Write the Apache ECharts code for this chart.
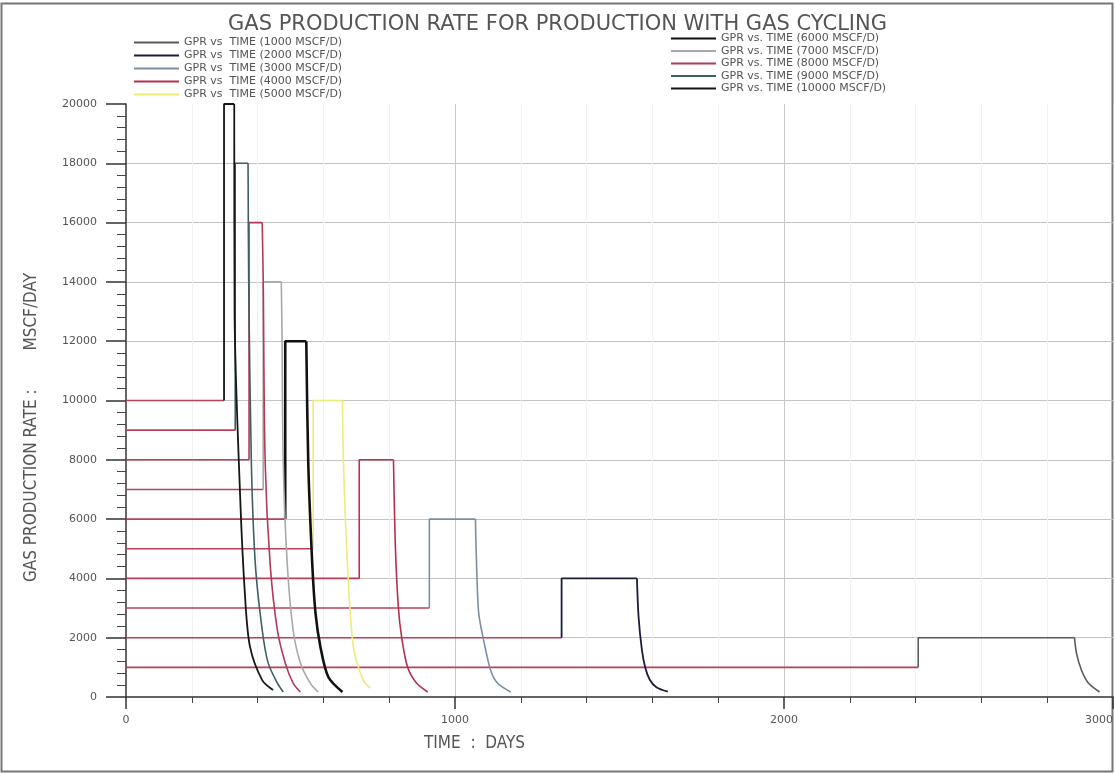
<!DOCTYPE html>
<html>
<head>
<meta charset="utf-8">
<script src="https://cdn.jsdelivr.net/npm/echarts@6/dist/echarts.min.js"></script>
<style>
  html, body { margin: 0; padding: 0; background: #fff; }
  #chart { width: 1115px; height: 774px; }
</style>
</head>
<body>
<div id="chart"></div>
<script>
// initial constant rates (MSCF/D) and the day each case starts cycling
const rates = [1000, 2000, 3000, 4000, 5000, 6000, 7000, 8000, 9000, 10000];
const jumpDays = [2408, 1324, 922, 709, 569, 484, 417, 374, 332, 298];

// cycling phase: plateau at twice the rate, then decline  [day, MSCF/D]
const c1000 = [[2408, 2000], [2883, 2000], [2889, 1480], [2904, 910], [2925, 470], [2959, 170]];
const c2000 = [[1324, 4000], [1553, 4000], [1558, 2700], [1568, 1600], [1578, 1000], [1592, 580], [1612, 330], [1647, 180]];
const c3000 = [[922, 6000], [1062, 6000], [1066, 4300], [1072, 2830], [1087, 1920], [1108, 910], [1129, 470], [1169, 170]];
const c4000 = [[709, 8000], [813, 8000], [819, 5000], [828, 3000], [838, 2000], [856, 1000], [883, 470], [917, 170]];
const c5000 = [[569, 10000], [658, 10000], [661, 7900], [673, 4500], [691, 1700], [721, 570], [743, 300]];
const c6000 = [[484, 12000], [548, 12000], [554, 7890], [566, 4520], [576, 2830], [591, 1690], [615, 675], [658, 170]];
const c7000 = [[417, 14000], [472, 14000], [474, 12400], [478, 7900], [490, 4500], [508, 2260], [530, 1150], [560, 470], [584, 170]];
const c8000 = [[374, 16000], [414, 16000], [417, 14100], [423, 7900], [438, 4500], [460, 2260], [484, 1150], [508, 470], [530, 170]];
const c9000 = [[332, 18000], [371, 18000], [373, 14000], [381, 7900], [393, 4500], [414, 2260], [432, 1150], [460, 470], [478, 170]];
const c10000 = [[298, 20000], [329, 20000], [330, 13000], [347, 6750], [362, 3370], [377, 1690], [414, 570], [447, 236]];

const cycles = [c1000, c2000, c3000, c4000, c5000, c6000, c7000, c8000, c9000, c10000];
const colors = ['#5a5a5a', '#1c1c3c', '#7d8ea0', '#b3304f', '#ecec78', '#111111', '#a8a8a8', '#b23a58', '#3f5f60', '#161616'];
const widths = [1.6, 1.8, 1.6, 1.6, 1.6, 2.6, 1.6, 1.6, 1.6, 1.8];
const preColor = '#b8405a';

const font = "'DejaVu Sans', sans-serif";
const narrow = "'DejaVu Sans Condensed', 'Liberation Sans Narrow', sans-serif";

const names = rates.map((r, i) => (i < 5 ? 'GPR vs  TIME (' : 'GPR vs. TIME (') + r + ' MSCF/D)');

const series = [];
rates.forEach((r, i) => {
  series.push({
    name: 'pre' + r,
    type: 'line',
    symbol: 'none',
    silent: true,
    lineStyle: { color: preColor, width: 1.6 },
    data: [[0, r], [jumpDays[i], r]]
  });
});
rates.forEach((r, i) => {
  // step up and plateau
  series.push({
    name: names[i],
    type: 'line',
    symbol: 'none',
    color: colors[i],
    lineStyle: { color: colors[i], width: widths[i] },
    data: [[jumpDays[i], r]].concat(cycles[i].slice(0, 2))
  });
  // decline after the plateau
  series.push({
    name: names[i],
    type: 'line',
    symbol: 'none',
    smooth: 0.3,
    color: colors[i],
    lineStyle: { color: colors[i], width: widths[i] },
    data: cycles[i].slice(1)
  });
});

const legendBase = {
  orient: 'vertical',
  padding: 0,
  itemWidth: 45,
  itemHeight: 10,
  itemStyle: { opacity: 0 },
  textStyle: { fontSize: 11, color: '#555', fontFamily: font, lineHeight: 10 }
};

const noComma = v => String(v);

const chart = echarts.init(document.getElementById('chart'));
chart.setOption({
  backgroundColor: '#fff',
  animation: false,
  title: {
    text: 'GAS PRODUCTION RATE FOR PRODUCTION WITH GAS CYCLING',
    left: 'center',
    top: 9,
    textStyle: { fontSize: 21, fontWeight: 'normal', color: '#555', fontFamily: font }
  },
  legend: [
    Object.assign({}, legendBase, { left: 133, top: 37, itemGap: 2, data: names.slice(0, 5) }),
    Object.assign({}, legendBase, { left: 670, top: 33, itemGap: 1.5, data: names.slice(5) })
  ],
  grid: { left: 126, right: 2, top: 104, bottom: 77, outerBoundsMode: 'none' },
  xAxis: {
    type: 'value',
    min: 0,
    max: 3000,
    interval: 1000,
    name: 'TIME  :  DAYS',
    nameLocation: 'middle',
    nameGap: 38,
    nameTextStyle: { fontSize: 17, color: '#555', fontFamily: narrow, padding: [0, 290, 0, 0] },
    axisLine: { lineStyle: { color: '#333', width: 1.5 } },
    axisTick: { length: 12, lineStyle: { color: '#333', width: 1.5 } },
    minorTick: { show: true, splitNumber: 5, length: 6, lineStyle: { color: '#444' } },
    axisLabel: { margin: 18, fontSize: 11, color: '#555', fontFamily: font, formatter: noComma, alignMaxLabel: 'right' },
    splitLine: { show: true, showMinLine: false, lineStyle: { color: '#c8c8c8', width: 1 } },
    minorSplitLine: { show: true, lineStyle: { color: '#f2f2f2', width: 1 } }
  },
  yAxis: {
    type: 'value',
    min: 0,
    max: 20000,
    interval: 2000,
    name: 'GAS PRODUCTION RATE :        MSCF/DAY',
    nameLocation: 'middle',
    nameGap: 86,
    nameTextStyle: { fontSize: 17, color: '#555', fontFamily: narrow, padding: [0, 54, 0, 0] },
    axisLine: { show: true, lineStyle: { color: '#333', width: 1.5 } },
    axisTick: { show: true, length: 20, lineStyle: { color: '#333', width: 1.5 } },
    minorTick: { show: true, splitNumber: 5, length: 9, lineStyle: { color: '#444' } },
    axisLabel: { margin: 29, fontSize: 11, color: '#555', fontFamily: font, formatter: noComma },
    splitLine: { show: true, showMaxLine: false, showMinLine: false, lineStyle: { color: '#c4c4c4', width: 1.2 } }
  },
  graphic: [{
    type: 'rect',
    shape: { x: 1.5, y: 3.5, width: 1111, height: 768 },
    style: { fill: 'none', stroke: '#777', lineWidth: 2 },
    silent: true
  }],
  series: series
});
</script>
</body>
</html>
